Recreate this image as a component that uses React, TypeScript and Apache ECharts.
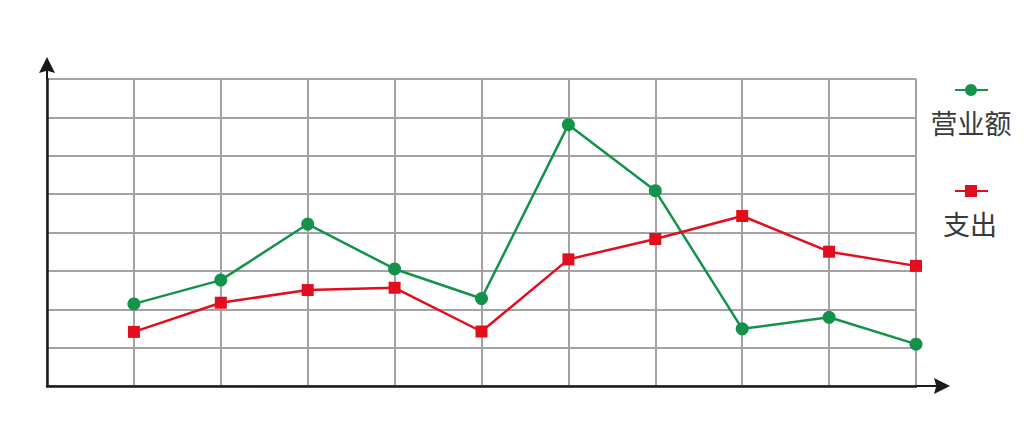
import React, { useEffect, useRef } from "react";
import * as echarts from "echarts";

const categories = ["0", "1", "2", "3", "4", "5", "6", "7", "8", "9", "10"];
const revenueName = "营业额";
const expenseName = "支出";
const revenue = [null, 2.14, 2.76, 4.22, 3.05, 2.28, 6.81, 5.09, 1.49, 1.79, 1.09];
const expense = [null, 1.41, 2.17, 2.5, 2.56, 1.42, 3.3, 3.83, 4.43, 3.5, 3.13];

const GREEN = "#14924a";
const RED = "#e20e1e";
const AXIS = "#1a1a1a";
const GRID = "#a3a3a3";
const FONT = "'Noto Sans CJK SC', sans-serif";

const yArrow = "path://M8,0 L16,16 L9,14 L9,22 L7,22 L7,14 L0,16 Z";
const xArrow = "path://M8,0 L16,16 L9,14 L9,34 L7,34 L7,14 L0,16 Z";

export default function App() {
  const ref = useRef<HTMLDivElement>(null);
  useEffect(() => {
    if (!ref.current) return;
    const chart = echarts.init(ref.current, null, { renderer: "svg" });
    chart.setOption({
      animation: false,
      backgroundColor: "#ffffff",
      grid: { left: 47, right: 108, top: 79, bottom: 50 },
      xAxis: {
        type: "category",
        data: categories,
        boundaryGap: false,
        axisLine: {
          lineStyle: { color: AXIS, width: 2.5 },
          symbol: ["none", xArrow],
          symbolSize: [16, 34],
          symbolOffset: [0, 17],
        },
        axisTick: { show: false },
        axisLabel: { show: false },
        splitLine: { show: true, lineStyle: { color: GRID, width: 2 } },
      },
      yAxis: {
        type: "value",
        min: 0,
        max: 8,
        interval: 1,
        axisLine: {
          show: true,
          lineStyle: { color: AXIS, width: 2.5 },
          symbol: ["none", yArrow],
          symbolSize: [16, 22],
          symbolOffset: [0, 11],
        },
        axisTick: { show: false },
        axisLabel: { show: false },
        splitLine: { show: true, lineStyle: { color: GRID, width: 2 } },
      },
      series: [
        {
          name: revenueName,
          type: "line",
          data: revenue,
          symbol: "circle",
          symbolSize: 13,
          lineStyle: { color: GREEN, width: 2.5 },
          itemStyle: { color: GREEN },
          z: 3,
        },
        {
          name: expenseName,
          type: "line",
          data: expense,
          symbol: "rect",
          symbolSize: 12,
          lineStyle: { color: RED, width: 2.5 },
          itemStyle: { color: RED },
          z: 4,
        },
      ],
      graphic: [
        { type: "line", shape: { x1: 955, y1: 90, x2: 988, y2: 90 }, style: { stroke: GREEN, lineWidth: 2 } },
        { type: "circle", shape: { cx: 971, cy: 90, r: 6 }, style: { fill: GREEN } },
        {
          type: "text",
          x: 971,
          y: 122,
          style: { text: revenueName, fill: "#3a3a3a", font: `27px ${FONT}`, align: "center", verticalAlign: "middle" },
        },
        { type: "line", shape: { x1: 955, y1: 191, x2: 988, y2: 191 }, style: { stroke: RED, lineWidth: 2 } },
        { type: "rect", shape: { x: 965, y: 185, width: 12, height: 12 }, style: { fill: RED } },
        {
          type: "text",
          x: 970,
          y: 223,
          style: { text: expenseName, fill: "#3a3a3a", font: `27px ${FONT}`, align: "center", verticalAlign: "middle" },
        },
      ],
    });
    return () => chart.dispose();
  }, []);
  return <div ref={ref} style={{ width: 1024, height: 436, position: "absolute", left: 0, top: 0 }} />;
}
